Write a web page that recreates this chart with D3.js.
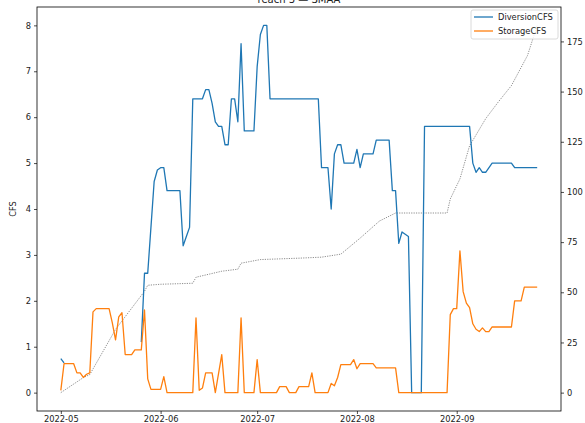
<!DOCTYPE html>
<html>
<head>
<meta charset="utf-8">
<script src="https://cdn.jsdelivr.net/npm/d3@7"></script>
<style>
  html, body { margin: 0; padding: 0; background: #fff; }
  svg { display: block; font-family: "DejaVu Sans", sans-serif; }
</style>
</head>
<body>
<svg id="chart" width="585" height="423"></svg>
<script>
// ---------------- data ----------------
const titleText = "reach 3 — SMAA";
const yLabel = "CFS";
const seriesNames = ["DiversionCFS", "StorageCFS"];

// DiversionCFS (left axis), day offsets from 2022-05-01; null = missing data
const diversionDays = [0, 1, 2, 25, 26, 27, 28, 29, 30, 31, 32, 33, 37, 38, 39, 40, 41, 44, 45, 46, 47, 48, 49, 50, 51, 52, 53, 54, 55, 56, 57, 60, 61, 62, 63, 64, 65, 80, 81, 83, 84, 85, 86, 87, 88, 91, 92, 93, 94, 97, 98, 102, 103, 104, 105, 106, 108, 109, 112, 113, 127, 128, 129, 130, 131, 132, 134, 140, 141, 148];
const diversionCFS = [0.74, 0.65, null, 1.1, 2.6, 2.6, 3.6, 4.6, 4.85, 4.9, 4.9, 4.4, 4.4, 3.2, 3.4, 3.6, 6.4, 6.4, 6.6, 6.6, 6.3, 5.9, 5.8, 5.8, 5.4, 5.4, 6.4, 6.4, 5.9, 7.6, 5.7, 5.7, 7.1, 7.8, 8.0, 8.0, 6.4, 6.4, 4.9, 4.9, 4.0, 5.2, 5.4, 5.4, 5.0, 5.0, 5.3, 4.9, 5.2, 5.2, 5.5, 5.5, 4.4, 4.4, 3.25, 3.5, 3.4, 0, 0, 5.8, 5.8, 5.0, 4.8, 4.9, 4.8, 4.8, 5.0, 5.0, 4.9, 4.9];

// StorageCFS (left axis)
const storageDays = [0, 1, 4, 5, 6, 7, 8, 9, 10, 11, 15, 16, 17, 18, 19, 20, 22, 23, 25, 26, 27, 28, 31, 32, 33, 41, 42, 43, 44, 45, 47, 48, 50, 51, 55, 56, 57, 60, 61, 62, 67, 68, 70, 71, 73, 74, 77, 78, 79, 83, 84, 85, 86, 87, 90, 91, 92, 93, 97, 98, 104, 105, 120, 121, 122, 123, 124, 125, 126, 127, 128, 129, 130, 131, 132, 133, 134, 140, 141, 143, 144, 148];
const storageCFS = [0.05, 0.63, 0.63, 0.43, 0.43, 0.33, 0.4, 0.43, 1.76, 1.83, 1.83, 1.52, 1.15, 1.65, 1.74, 0.83, 0.83, 0.93, 0.93, 1.8, 0.3, 0.07, 0.07, 0.35, 0, 0, 1.63, 0.05, 0.1, 0.43, 0.43, 0, 0.83, 0, 0, 1.63, 0, 0, 0.72, 0, 0, 0.13, 0.13, 0, 0, 0.13, 0.13, 0.43, 0, 0, 0.2, 0.15, 0.33, 0.61, 0.61, 0.72, 0.52, 0.63, 0.63, 0.54, 0.54, 0, 0, 1.7, 1.83, 1.83, 3.09, 2.2, 1.95, 1.85, 1.5, 1.38, 1.33, 1.41, 1.33, 1.33, 1.43, 1.43, 2.0, 2.0, 2.3, 2.3];

// cumulative storage (right axis, dotted)
const cumDays = [0, 7, 9, 17, 26, 27, 31, 41, 42, 50, 55, 56, 62, 74, 81, 87, 93, 99, 104, 120, 121, 124, 127, 132, 136, 140, 145, 148];
const cumValues = [0, 7.5, 9, 31.5, 50.5, 53.5, 54, 54.5, 57.5, 60.5, 61.5, 64.5, 66.3, 67, 67.5, 69, 77, 85.5, 89.5, 89.5, 96.5, 106.5, 123, 136.5, 145, 153, 168, 183];

const leftTicks = [0, 1, 2, 3, 4, 5, 6, 7, 8];
const rightTicks = [0, 25, 50, 75, 100, 125, 150, 175];
const startDate = new Date(2022, 4, 1);
const monthTicks = [new Date(2022, 4, 1), new Date(2022, 5, 1), new Date(2022, 6, 1), new Date(2022, 7, 1), new Date(2022, 8, 1)];

// ---------------- chart ----------------
const svg = d3.select("#chart");
const pL = 37, pR = 561, pT = 7, pB = 411;
const fs = 8.3;
const toDate = d => d3.timeDay.offset(startDate, d);

function padded(ext) { const s = ext[1] - ext[0]; return [ext[0] - 0.05 * s, ext[1] + 0.05 * s]; }

const allDays = diversionDays.concat(storageDays, cumDays);
const dayExt = padded(d3.extent(allDays));
const x = d3.scaleTime()
  .domain([new Date(startDate.getTime() + dayExt[0] * 864e5), new Date(startDate.getTime() + dayExt[1] * 864e5)])
  .range([pL, pR]);

const leftVals = diversionCFS.filter(v => v != null).concat(storageCFS);
const yL = d3.scaleLinear().domain(padded(d3.extent(leftVals))).range([pB, pT]);
const yR = d3.scaleLinear().domain(padded(d3.extent(cumValues))).range([pB, pT]);

// title (clipped at top as in the reference)
svg.append("text").attr("x", (pL + pR) / 2).attr("y", 3)
  .attr("text-anchor", "middle").attr("font-size", 10).attr("fill", "#222")
  .text(titleText);

// lines
const divData = diversionDays.map((d, i) => ({ date: toDate(d), v: diversionCFS[i] }));
const stoData = storageDays.map((d, i) => ({ date: toDate(d), v: storageCFS[i] }));
const cumData = cumDays.map((d, i) => ({ date: toDate(d), v: cumValues[i] }));

const g = svg.append("g");
g.append("path").datum(cumData)
  .attr("fill", "none").attr("stroke", "#222").attr("stroke-opacity", 0.8)
  .attr("stroke-width", 0.65).attr("stroke-dasharray", "1.2,1.2")
  .attr("d", d3.line().x(d => x(d.date)).y(d => yR(d.v)));

g.append("path").datum(divData)
  .attr("fill", "none").attr("stroke", "#1f77b4").attr("stroke-width", 1.3)
  .attr("stroke-linejoin", "round")
  .attr("d", d3.line().defined(d => d.v != null).x(d => x(d.date)).y(d => yL(d.v)));

g.append("path").datum(stoData)
  .attr("fill", "none").attr("stroke", "#ff7f0e").attr("stroke-width", 1.3)
  .attr("stroke-linejoin", "round")
  .attr("d", d3.line().x(d => x(d.date)).y(d => yL(d.v)));

// axes
function styleAxis(sel) {
  sel.selectAll("path").remove();
  sel.selectAll("line").attr("stroke", "#000").attr("stroke-width", 0.7);
  sel.selectAll("text").attr("font-size", fs).attr("fill", "#222")
    .attr("font-family", "DejaVu Sans, sans-serif");
}
svg.append("g").attr("transform", `translate(0,${pB})`)
  .call(d3.axisBottom(x).tickValues(monthTicks).tickFormat(d3.timeFormat("%Y-%m")).tickSize(3).tickPadding(2))
  .call(styleAxis);
svg.append("g").attr("transform", `translate(${pL},0)`)
  .call(d3.axisLeft(yL).tickValues(leftTicks).tickFormat(d3.format("d")).tickSize(3).tickPadding(3))
  .call(styleAxis);
svg.append("g").attr("transform", `translate(${pR},0)`)
  .call(d3.axisRight(yR).tickValues(rightTicks).tickFormat(d3.format("d")).tickSize(3).tickPadding(3))
  .call(styleAxis);

// frame
svg.append("rect").attr("x", pL).attr("y", pT).attr("width", pR - pL).attr("height", pB - pT)
  .attr("fill", "none").attr("stroke", "#000").attr("stroke-width", 0.8);

// y label
svg.append("text").attr("transform", `translate(16,${(pT + pB) / 2}) rotate(-90)`)
  .attr("text-anchor", "middle").attr("font-size", fs).attr("fill", "#222").text(yLabel);

// legend
const lg = svg.append("g");
lg.append("rect").attr("x", 471).attr("y", 10).attr("width", 87).attr("height", 29).attr("rx", 2)
  .attr("fill", "#fff").attr("fill-opacity", 0.85).attr("stroke", "#d0d0d0").attr("stroke-width", 0.8);
const colors = ["#1f77b4", "#ff7f0e"];
seriesNames.forEach((name, i) => {
  const yy = 17 + i * 14;
  lg.append("line").attr("x1", 474).attr("x2", 493).attr("y1", yy).attr("y2", yy)
    .attr("stroke", colors[i]).attr("stroke-width", 1.3);
  lg.append("text").attr("x", 498).attr("y", yy).attr("dy", "0.35em")
    .attr("font-size", fs).attr("fill", "#222").text(name);
});
</script>
</body>
</html>
